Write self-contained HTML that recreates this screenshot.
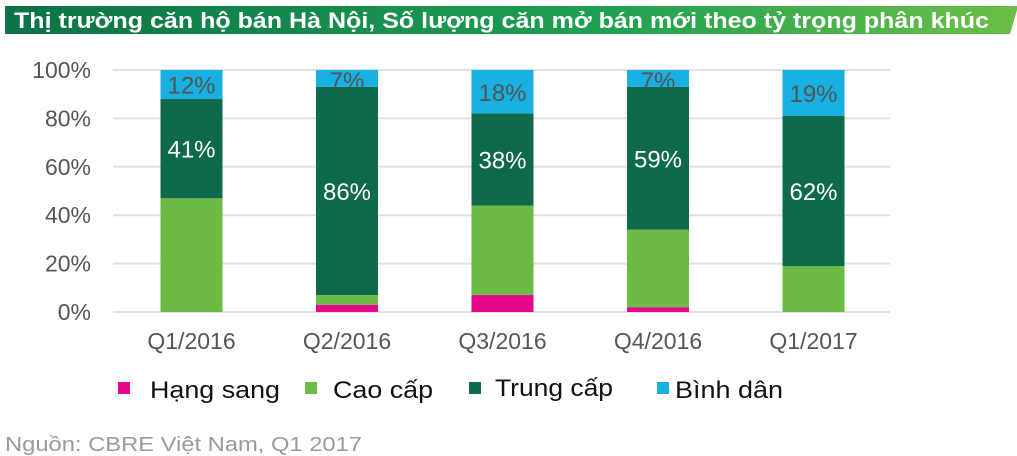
<!DOCTYPE html>
<html><head><meta charset="utf-8"><style>
body{margin:0;background:#fff;width:1017px;height:456px;overflow:hidden}
svg{display:block;font-family:"Liberation Sans",sans-serif}
</style></head><body>
<svg id="chart" width="1017" height="456">
<defs><linearGradient id="tg" x1="0" x2="1"><stop offset="0" stop-color="#0b7246"/><stop offset="0.6" stop-color="#1fa152"/><stop offset="1" stop-color="#6cbf45"/></linearGradient></defs>
<polygon points="5,6 1017,6 1017,10 1010,34 5,34" fill="url(#tg)"/>
<text x="14" y="28" fill="#fff" font-size="22" font-weight="bold" textLength="975" lengthAdjust="spacingAndGlyphs">Thị trường căn hộ bán Hà Nội, Số lượng căn mở bán mới theo tỷ trọng phân khúc</text>
<g id="grid"></g><g id="bars"></g><g id="labels"></g>
<g>
<rect x="118" y="382" width="12" height="12" fill="#e5068a"/>
<text x="150" y="398" font-size="24" fill="#111" textLength="130" lengthAdjust="spacingAndGlyphs">Hạng sang</text>
<rect x="305" y="382" width="12" height="12" fill="#6bbb44"/>
<text x="333" y="398" font-size="24" fill="#111" textLength="100" lengthAdjust="spacingAndGlyphs">Cao cấp</text>
<rect x="469" y="382" width="12" height="12" fill="#0e6a4b"/>
<text x="495" y="396" font-size="24" fill="#111" textLength="118" lengthAdjust="spacingAndGlyphs">Trung cấp</text>
<rect x="657" y="382" width="12" height="12" fill="#17b0e0"/>
<text x="675" y="398" font-size="24" fill="#111" textLength="108" lengthAdjust="spacingAndGlyphs">Bình dân</text>
</g>
<text x="5" y="451" font-size="20" fill="#9a9a9a" textLength="357" lengthAdjust="spacingAndGlyphs">Nguồn: CBRE Việt Nam, Q1 2017</text>
</svg>
<script>
const categories=["Q1/2016","Q2/2016","Q3/2016","Q4/2016","Q1/2017"];
const hangSang=[0,3,7,2,0];
const caoCap=[47,4,37,32,19];
const trungCap=[41,86,38,59,62];
const binhDan=[12,7,18,7,19];
const yTicks=[0,20,40,60,80,100];
const seriesList=[["hang-sang",hangSang,"#e5068a",null],["cao-cap",caoCap,"#6bbb44",null],["trung-cap",trungCap,"#0e6a4b","#fff"],["binh-dan",binhDan,"#17b0e0","#555"]];
const NS="http://www.w3.org/2000/svg";
const y0=312,y1=70,xL=113,xR=890;
function y(v){return y0-(y0-y1)*Math.min(v,100)/100;}
function xc(i){return 191.5+i*155.5;}
const bw=62;
function mk(tag,attrs,parent){const e=document.createElementNS(NS,tag);for(const k in attrs)e.setAttribute(k,attrs[k]);parent.appendChild(e);return e;}
const grid=document.getElementById('grid'),bars=document.getElementById('bars'),labels=document.getElementById('labels');
yTicks.forEach(t=>{
 const l=mk('line',{x1:xL,x2:xR,y1:y(t),y2:y(t),stroke:'#e0e0e0','stroke-width':2},grid);
 
 
 const tx=mk('text',{x:91,y:y(t)+8,'text-anchor':'end','font-size':23,fill:'#555'},grid);
 tx.textContent=t+'%';
 
 
});
categories.forEach((c,i)=>{
 let acc=0;
 seriesList.forEach(([name,arr,col,lc])=>{
  const v=arr[i];
  if(v>0){
   const r=mk('rect',{x:xc(i)-bw/2,y:y(acc+v),width:bw,height:y(acc)-y(acc+v),fill:col},bars);
   
   
   if(lc){
    const ly=name==='binh-dan'?Math.max(y(acc+v)+19,y(acc+v/2)+9):y(acc+v/2)+9;
    const t=mk('text',{x:xc(i),y:ly,'text-anchor':'middle','font-size':24,fill:lc},labels);
    t.textContent=v+'%';
    
    
   }
  }
  acc+=v;
 });
 const t=mk('text',{x:xc(i),y:349,'text-anchor':'middle','font-size':23,fill:'#555'},labels);
 t.textContent=c;
 
 
});
</script>
</body></html>
